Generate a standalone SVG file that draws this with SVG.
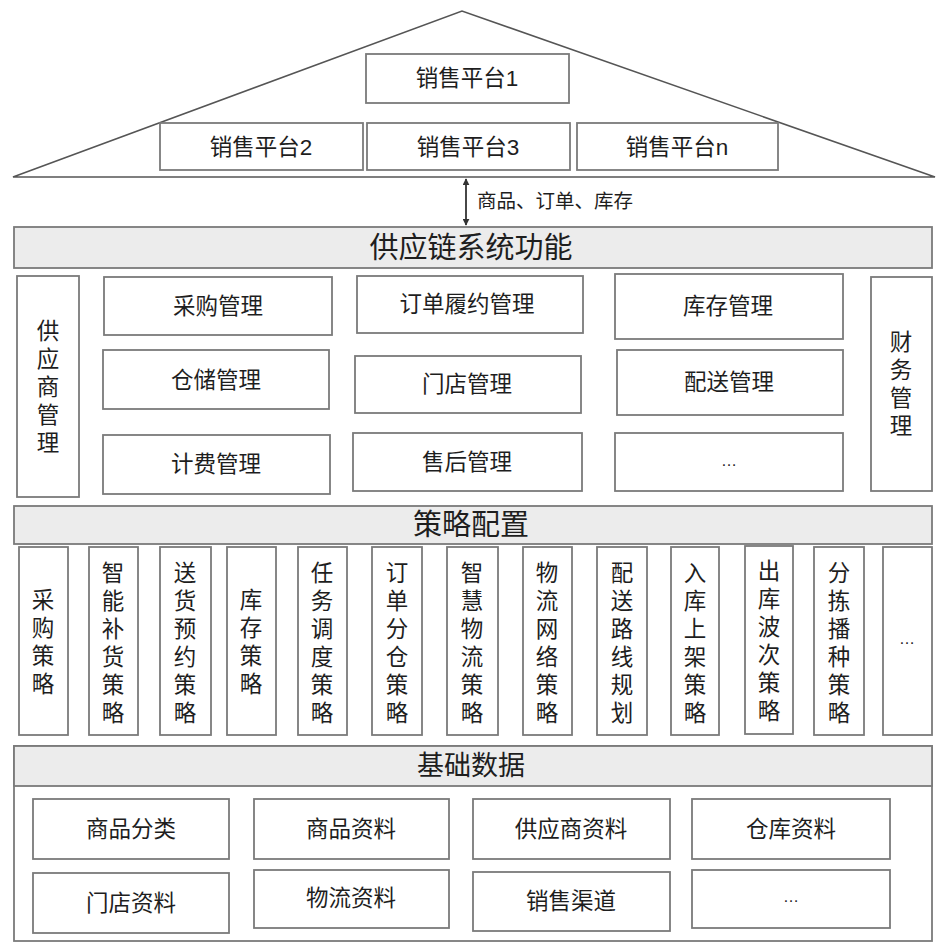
<svg xmlns="http://www.w3.org/2000/svg" width="939" height="946" viewBox="0 0 939 946">
<defs>
<style>
.bx{fill:#fff;stroke:#7a7a7a;stroke-width:1.8}
.hd{fill:#ececec;stroke:#7a7a7a;stroke-width:1.8}
.t{font-family:"Liberation Sans","Noto Sans CJK SC",sans-serif;font-size:22.5px;fill:#1e1e1e;text-anchor:middle;dominant-baseline:central}
.h{font-family:"Liberation Sans","Noto Sans CJK SC",sans-serif;font-size:29px;fill:#1e1e1e;text-anchor:middle;dominant-baseline:central}
.s{font-family:"Liberation Sans","Noto Sans CJK SC",sans-serif;font-size:19.5px;fill:#1e1e1e;dominant-baseline:central}
.v{font-family:"Noto Sans CJK SC",sans-serif;font-size:22.5px;fill:#1e1e1e;text-anchor:middle;writing-mode:vertical-rl;text-orientation:upright;letter-spacing:5.5px}
</style>
<marker id="ah" viewBox="0 0 10 10" refX="9" refY="5" markerWidth="7" markerHeight="7" orient="auto-start-reverse" markerUnits="userSpaceOnUse">
<path d="M0,0 L10,5 L0,10 z" fill="#333"/>
</marker>
</defs>
<rect width="939" height="946" fill="#fff"/>

<g id="roof">
<path d="M13,177 L462,11 L935,177 Z" fill="#fff" stroke="#555" stroke-width="1.6"/>
</g>

<g id="p1"><rect class="bx" x="366" y="54" width="203" height="49"/><text class="t" x="467" y="78">销售平台1</text></g>
<g id="p2"><rect class="bx" x="160" y="123" width="203" height="47"/><text class="t" x="261" y="147">销售平台2</text></g>
<g id="p3"><rect class="bx" x="367" y="123" width="203" height="47"/><text class="t" x="468" y="147">销售平台3</text></g>
<g id="pn"><rect class="bx" x="577" y="123" width="201" height="47"/><text class="t" x="677" y="147">销售平台n</text></g>

<g id="connectors">
<line x1="466" y1="179" x2="466" y2="225" stroke="#333" stroke-width="1.8" marker-start="url(#ah)" marker-end="url(#ah)"/>
<text class="s" x="477" y="201">商品、订单、库存</text>
</g>

<g id="func-header"><rect class="hd" x="14" y="227" width="918" height="41"/><text class="h" x="471" y="248">供应链系统功能</text></g>

<g id="supplier"><rect class="bx" x="17" y="276" width="62" height="221"/>
<text class="v" x="48" y="389">供应商管理</text></g>

<g id="f1"><rect class="bx" x="104" y="277" width="228" height="58"/><text class="t" x="218" y="306">采购管理</text></g>
<g id="f2"><rect class="bx" x="103" y="350" width="226" height="59"/><text class="t" x="216" y="380">仓储管理</text></g>
<g id="f3"><rect class="bx" x="103" y="435" width="227" height="59"/><text class="t" x="216" y="464">计费管理</text></g>
<g id="f4"><rect class="bx" x="357" y="276" width="226" height="57"/><text class="t" x="467" y="304">订单履约管理</text></g>
<g id="f5"><rect class="bx" x="355" y="356" width="226" height="57"/><text class="t" x="467" y="384">门店管理</text></g>
<g id="f6"><rect class="bx" x="353" y="433" width="229" height="58"/><text class="t" x="467" y="462">售后管理</text></g>
<g id="f7"><rect class="bx" x="615" y="274" width="228" height="65"/><text class="t" x="728" y="306">库存管理</text></g>
<g id="f8"><rect class="bx" x="617" y="350" width="226" height="65"/><text class="t" x="729" y="382">配送管理</text></g>
<g id="f9"><rect class="bx" x="615" y="433" width="228" height="58"/><text class="t" x="729" y="460" style="font-size:16px">…</text></g>

<g id="finance"><rect class="bx" x="871" y="277" width="61" height="214"/>
<text class="v" x="901" y="386">财务管理</text></g>

<g id="strat-header"><rect class="hd" x="14" y="506" width="918" height="38"/><text class="h" x="471" y="525">策略配置</text></g>

<g id="s1"><rect class="bx" x="19" y="547" width="49" height="188"/><text class="v" x="43" y="644">采购策略</text></g>
<g id="s2"><rect class="bx" x="89" y="547" width="49" height="188"/><text class="v" x="113" y="645">智能补货策略</text></g>
<g id="s3"><rect class="bx" x="160" y="547" width="51" height="188"/><text class="v" x="185" y="645">送货预约策略</text></g>
<g id="s4"><rect class="bx" x="227" y="547" width="49" height="188"/><text class="v" x="251" y="644">库存策略</text></g>
<g id="s5"><rect class="bx" x="298" y="547" width="49" height="188"/><text class="v" x="322" y="645">任务调度策略</text></g>
<g id="s6"><rect class="bx" x="372" y="547" width="50" height="188"/><text class="v" x="397" y="645">订单分仓策略</text></g>
<g id="s7"><rect class="bx" x="447" y="547" width="51" height="188"/><text class="v" x="472" y="645">智慧物流策略</text></g>
<g id="s8"><rect class="bx" x="523" y="547" width="49" height="188"/><text class="v" x="547" y="645">物流网络策略</text></g>
<g id="s9"><rect class="bx" x="597" y="547" width="50" height="188"/><text class="v" x="622" y="645">配送路线规划</text></g>
<g id="s10"><rect class="bx" x="671" y="547" width="48" height="188"/><text class="v" x="695" y="645">入库上架策略</text></g>
<g id="s11"><rect class="bx" x="745" y="546" width="48" height="188"/><text class="v" x="769" y="643">出库波次策略</text></g>
<g id="s12"><rect class="bx" x="814" y="547" width="50" height="188"/><text class="v" x="839" y="645">分拣播种策略</text></g>
<g id="s13"><rect class="bx" x="883" y="547" width="49" height="188"/><text class="t" x="907" y="638" style="font-size:16px">…</text></g>

<g id="base"><rect class="bx" x="14" y="746" width="918" height="195"/><rect class="hd" x="14" y="746" width="918" height="40"/><text class="h" x="471" y="766" style="font-size:27px">基础数据</text></g>

<g id="b1"><rect class="bx" x="33" y="799" width="196" height="60"/><text class="t" x="131" y="829">商品分类</text></g>
<g id="b2"><rect class="bx" x="33" y="873" width="196" height="60"/><text class="t" x="131" y="903">门店资料</text></g>
<g id="b3"><rect class="bx" x="254" y="799" width="195" height="60"/><text class="t" x="351" y="829">商品资料</text></g>
<g id="b4"><rect class="bx" x="254" y="870" width="195" height="58"/><text class="t" x="351" y="898">物流资料</text></g>
<g id="b5"><rect class="bx" x="473" y="799" width="197" height="60"/><text class="t" x="571" y="829">供应商资料</text></g>
<g id="b6"><rect class="bx" x="473" y="872" width="197" height="59"/><text class="t" x="571" y="901">销售渠道</text></g>
<g id="b7"><rect class="bx" x="692" y="799" width="198" height="60"/><text class="t" x="791" y="829">仓库资料</text></g>
<g id="b8"><rect class="bx" x="692" y="870" width="198" height="58"/><text class="t" x="791" y="896" style="font-size:16px">…</text></g>
</svg>
